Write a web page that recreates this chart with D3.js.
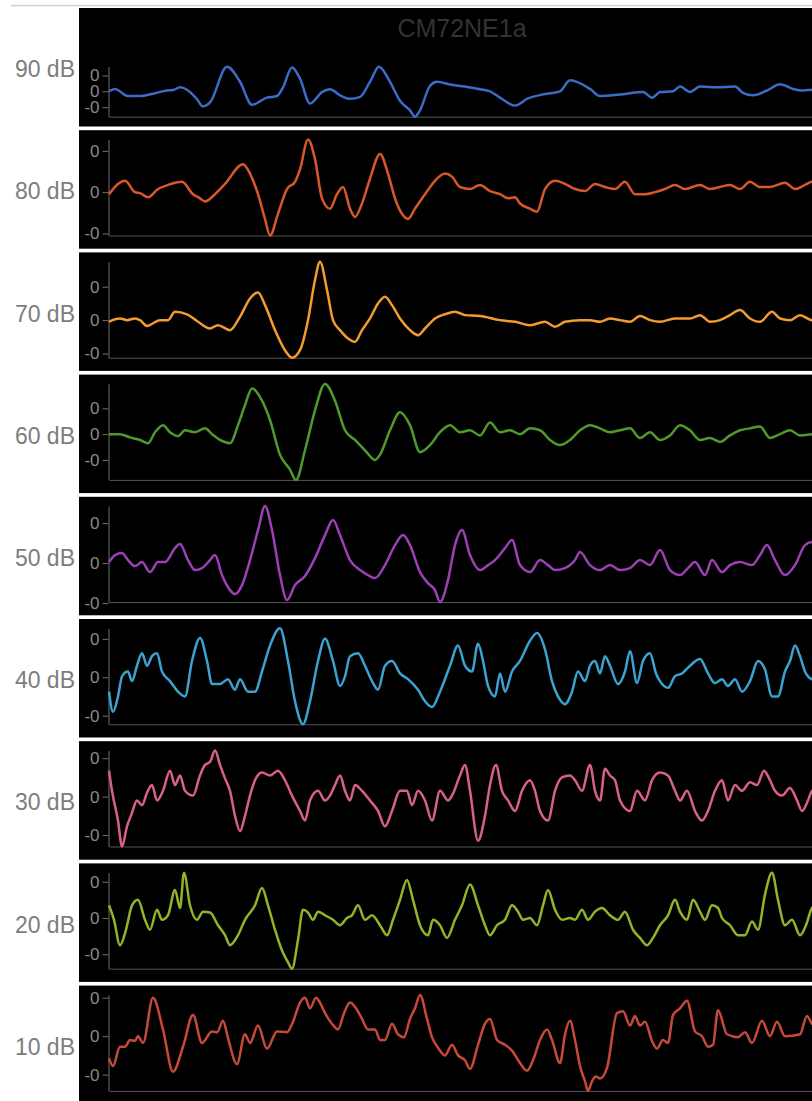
<!DOCTYPE html>
<html>
<head>
<meta charset="utf-8">
<script src="https://cdn.jsdelivr.net/npm/d3@7"></script>
<style>
  html, body { margin: 0; padding: 0; background: #fff; overflow: hidden; }
  svg { display: block; font-family: "Liberation Sans", Arial, Helvetica, sans-serif; }
</style>
</head>
<body>
<svg id="chart" width="812" height="1101"></svg>
<script>
// Averaged evoked waveforms, one trace per stimulus level (time in ms, amplitude in µV)
const chartTitle = "CM72NE1a";
const levels = ["90 dB", "80 dB", "70 dB", "60 dB", "50 dB", "40 dB", "30 dB", "20 dB", "10 dB"];
const lineColors = ["#3b6cc8", "#d9572b", "#f29b2e", "#4e9a2c", "#9d3fb5", "#3aa3d0", "#d9608a", "#90b526", "#c6493a"];
const yTickValues = [-0.4, 0, 0.4];
const yTickLabels = ["-0", "0", "0"];

const wave90 = [[0,0],[0.6,0.06],[1.9,-0.12],[3.1,-0.12],[4.4,-0.06],[5.8,0.02],[6.4,0.03],[7.1,0.10],[7.8,0.04],[8.8,-0.20],[9.4,-0.38],[10.1,-0.28],[11.8,0.62],[13.1,0.24],[14.3,-0.34],[15.8,-0.16],[16.8,-0.12],[17.4,0.10],[18.3,0.60],[19.1,0.32],[20.1,-0.31],[21.3,-0.02],[22.1,0.05],[23.1,-0.10],[24.1,-0.19],[25.1,-0.14],[26.1,0.24],[27.0,0.62],[28.1,0.24],[29.1,-0.24],[30.1,-0.48],[30.6,-0.64],[31.1,-0.48],[32.1,0.14],[32.8,0.24],[34.1,0.17],[35.6,0.12],[37.1,0.05],[38.1,0],[39.1,-0.16],[40.6,-0.36],[41.9,-0.18],[43.6,-0.07],[45.1,0],[46.1,0.28],[48.1,0.06],[49.1,-0.12],[51.1,-0.08],[53.4,-0.02],[54.3,-0.16],[55.1,-0.02],[56.4,0],[57.1,0.12],[58.1,-0.02],[59.1,0.12],[60.8,0.10],[62.6,0.12],[63.4,-0.04],[64.4,-0.10],[65.8,0.02],[67.1,0.18],[68.4,0.06],[69.4,0.02],[70.3,0.04],[71.6,0.05]];
const wave80 = [[0,-0.02],[0.9,0.08],[1.6,0.11],[2.6,0],[3.1,-0.01],[3.9,-0.05],[4.9,0.03],[5.9,0.07],[7.3,0.10],[8.4,-0.02],[9.1,-0.06],[9.6,-0.09],[10.6,-0.02],[11.6,0.08],[13.4,0.27],[14.1,0.18],[14.9,-0.02],[15.6,-0.26],[16.1,-0.42],[16.9,-0.21],[17.8,0.03],[18.6,0.10],[19.1,0.22],[19.9,0.51],[20.6,0.32],[21.3,-0.06],[22.1,-0.16],[22.8,-0.02],[23.4,0.05],[24.1,-0.16],[24.6,-0.24],[25.3,-0.11],[26.1,0.13],[27.1,0.37],[27.9,0.18],[28.6,-0.06],[29.3,-0.21],[29.9,-0.26],[30.6,-0.16],[31.6,-0.02],[32.6,0.11],[33.6,0.18],[34.3,0.15],[35.1,0.05],[36.1,0.03],[37.1,0.07],[38.1,0.01],[39.1,-0.02],[39.9,-0.06],[40.6,-0.05],[41.1,-0.11],[42.1,-0.16],[42.8,-0.19],[43.6,0.03],[44.6,0.11],[45.6,0.08],[46.6,0.03],[47.6,0.01],[48.6,0.08],[49.6,0.05],[50.6,0.03],[51.6,0.10],[52.6,-0.02],[53.6,-0.02],[54.6,0],[55.6,0.03],[56.6,0.07],[57.6,0.03],[59.1,0.07],[60.1,0.03],[61.1,0.05],[62.1,0.07],[63.1,0.03],[64.1,0.10],[65.1,0.05],[66.1,0.05],[67.6,0.09],[68.6,0.03],[69.6,0.07],[70.3,0.10],[71.6,0.07]];
const wave70 = [[0,-0.02],[0.6,0.01],[1.1,0.02],[1.8,0],[2.6,0.02],[3.1,0],[3.8,-0.07],[5.1,0],[5.9,0],[6.6,0.10],[7.8,0.07],[8.8,-0.01],[10.1,-0.10],[10.9,-0.06],[12.1,-0.12],[13.1,0.04],[14.1,0.26],[14.9,0.33],[15.6,0.18],[16.6,-0.12],[17.6,-0.36],[18.3,-0.45],[19.1,-0.36],[19.9,0],[20.6,0.48],[21.1,0.70],[21.8,0.36],[22.4,0],[23.1,-0.12],[23.9,-0.22],[24.6,-0.26],[25.3,-0.12],[26.1,0.02],[26.9,0.20],[27.6,0.28],[28.3,0.18],[29.1,0.02],[30.1,-0.12],[30.9,-0.18],[31.6,-0.10],[32.6,0.02],[33.6,0.07],[34.6,0.10],[35.6,0.06],[37.1,0.05],[39.1,0],[40.6,-0.02],[42.1,-0.06],[43.6,-0.02],[44.6,-0.08],[45.6,-0.02],[47.1,0],[48.1,0],[49.1,-0.02],[50.1,0.02],[51.1,0],[52.1,-0.02],[53.1,0.05],[54.1,0],[55.1,-0.02],[56.6,0.02],[58.1,0.02],[59.1,0.06],[60.1,-0.02],[61.1,0],[62.1,0.06],[63.1,0.12],[64.1,0.02],[65.1,-0.02],[66.3,0.10],[67.1,0.02],[68.1,0],[69.1,0.06],[70.3,0],[71.6,0.02]];
const wave60 = [[0,0],[1.1,0],[2.1,-0.05],[3.1,-0.09],[3.9,-0.14],[4.6,0.03],[5.4,0.14],[6.1,0.03],[6.9,-0.03],[7.6,0.06],[8.6,0.03],[9.6,0.09],[10.3,0],[11.1,-0.09],[12.1,-0.14],[12.9,0.14],[13.6,0.45],[14.3,0.71],[15.3,0.52],[16.1,0.22],[17.1,-0.32],[18.1,-0.55],[18.7,-0.71],[19.6,-0.25],[20.6,0.37],[21.6,0.78],[22.6,0.52],[23.6,0.06],[24.6,-0.09],[25.6,-0.25],[26.6,-0.40],[27.1,-0.32],[28.1,0.06],[29.1,0.34],[30.1,0.14],[31.1,-0.28],[32.1,-0.17],[33.1,0.03],[34.1,0.14],[35.1,0.03],[36.1,0.06],[37.1,-0.02],[38.1,0.18],[39.1,0.03],[40.1,0.06],[41.1,0],[42.1,0.09],[43.1,0.06],[44.1,-0.09],[45.1,-0.17],[46.1,-0.09],[47.1,0.06],[48.1,0.14],[49.1,0.09],[50.1,0.03],[51.1,0.06],[52.1,0.09],[53.1,-0.06],[54.1,0.03],[55.1,-0.09],[56.1,-0.02],[57.1,0.14],[58.1,0.06],[59.1,-0.09],[60.1,-0.06],[61.1,-0.12],[62.1,-0.02],[63.1,0.06],[64.1,0.09],[65.1,0.12],[66.1,-0.06],[67.1,0],[68.1,0.06],[69.1,-0.02],[70.3,0],[71.6,0.03]];
const wave50 = [[0,0.01],[0.6,0.08],[1.3,0.10],[1.9,0.03],[2.6,-0.03],[3.3,0.01],[4.1,-0.09],[4.9,0.01],[5.6,0.01],[6.6,0.15],[7.1,0.19],[7.9,0.03],[8.6,-0.07],[9.3,-0.05],[10.1,0.03],[10.6,0.08],[11.3,-0.12],[12.1,-0.27],[12.6,-0.31],[13.3,-0.22],[14.1,0.03],[14.9,0.33],[15.6,0.57],[16.3,0.33],[17.1,-0.12],[17.8,-0.37],[18.6,-0.22],[19.6,-0.13],[20.6,0.05],[21.6,0.28],[22.4,0.43],[23.1,0.28],[24.1,0.03],[25.1,-0.07],[25.9,-0.12],[26.6,-0.15],[27.6,-0.02],[28.6,0.18],[29.4,0.28],[30.1,0.18],[31.1,-0.09],[31.9,-0.20],[32.6,-0.27],[33.1,-0.39],[33.9,-0.17],[34.6,0.18],[35.3,0.33],[36.1,0.08],[37.1,-0.07],[37.9,-0.02],[38.6,0.03],[39.6,0.15],[40.3,0.23],[41.1,-0.02],[42.1,-0.09],[43.1,0.03],[43.9,-0.02],[44.6,-0.07],[45.6,-0.05],[46.6,0.03],[47.1,0.11],[48.1,-0.02],[49.1,-0.07],[50.1,-0.02],[51.1,-0.07],[52.1,-0.05],[53.1,0.03],[54.1,-0.02],[55.1,0.13],[56.1,-0.07],[57.1,-0.12],[57.9,-0.05],[58.6,0.01],[59.6,-0.12],[60.3,0.03],[61.3,-0.09],[62.1,-0.02],[63.1,0.01],[64.3,-0.02],[65.1,0.08],[65.8,0.18],[66.6,0.03],[67.6,-0.12],[68.6,-0.02],[69.6,0.18],[70.3,0.21],[71.6,0.18]];
const wave40 = [[0,-0.15],[0.4,-0.36],[0.9,-0.20],[1.3,0.01],[1.9,0.06],[2.3,-0.04],[2.8,0.12],[3.3,0.25],[3.8,0.12],[4.3,0.22],[4.8,0.25],[5.3,0.06],[6.1,-0.04],[6.9,-0.15],[7.6,-0.20],[8.3,0.17],[9.1,0.41],[9.8,0.17],[10.3,-0.07],[11.1,-0.07],[11.9,-0.02],[12.6,-0.13],[13.1,-0.02],[13.9,-0.15],[14.6,-0.15],[15.3,0.06],[16.1,0.33],[17.1,0.51],[17.9,0.17],[18.6,-0.25],[19.4,-0.49],[20.1,-0.25],[20.9,0.17],[21.6,0.40],[22.4,0.17],[23.1,-0.09],[23.6,0.01],[24.1,0.22],[24.9,0.25],[25.6,0.12],[26.3,-0.04],[26.9,-0.13],[27.6,0.12],[28.3,0.17],[29.1,0.04],[29.9,-0.02],[30.9,-0.13],[31.6,-0.25],[32.3,-0.31],[33.1,-0.15],[34.1,0.12],[34.9,0.33],[35.6,0.12],[36.3,0.06],[36.9,0.35],[37.4,0.17],[37.9,-0.09],[38.6,-0.20],[39.1,0.04],[39.6,-0.15],[40.3,0.06],[41.1,0.17],[42.1,0.38],[42.8,0.46],[43.6,0.29],[44.3,-0.04],[44.9,-0.20],[45.6,-0.28],[46.3,-0.15],[46.9,0.06],[47.6,-0.04],[48.1,0.12],[48.6,0.17],[49.1,0.04],[49.6,0.22],[50.1,0.12],[50.9,-0.07],[51.6,0.06],[52.1,0.27],[52.8,-0.06],[53.4,0.17],[54.1,0.25],[54.7,0.04],[55.1,-0.04],[55.9,-0.11],[56.6,0.01],[57.3,0.04],[58.1,0.12],[59.1,0.19],[59.9,0.04],[60.6,-0.06],[61.3,-0.02],[61.9,-0.09],[62.6,-0.02],[63.3,-0.15],[64.1,-0.04],[64.9,0.17],[65.6,0.08],[66.3,-0.20],[66.9,-0.20],[67.6,0.06],[68.1,0.17],[68.6,0.33],[69.1,0.22],[69.6,0.06],[70.3,-0.02],[71.6,-0.04]];
const wave30 = [[0,0.27],[0.3,0.06],[0.9,-0.25],[1.3,-0.52],[1.8,-0.31],[2.3,-0.17],[2.8,-0.04],[3.3,-0.09],[3.8,0.04],[4.3,0.12],[4.8,-0.04],[5.4,0.06],[6.1,0.27],[6.6,0.12],[7.1,0.22],[7.6,0.06],[8.4,0.01],[9.1,0.22],[9.6,0.33],[10.1,0.36],[10.6,0.48],[11.1,0.33],[11.6,0.19],[12.1,0.06],[12.6,-0.20],[13.1,-0.36],[13.6,-0.20],[14.1,0.01],[14.6,0.17],[15.3,0.25],[16.1,0.22],[16.9,0.27],[17.6,0.17],[18.3,0.01],[19.1,-0.15],[19.6,-0.25],[20.1,-0.04],[20.9,0.06],[21.6,-0.04],[22.1,0.01],[22.6,0.12],[23.1,0.22],[23.6,0.06],[24.1,-0.04],[24.6,0.12],[25.3,0.06],[26.1,-0.04],[26.9,-0.15],[27.6,-0.31],[28.3,-0.15],[29.1,0.06],[29.8,0.06],[30.3,-0.09],[30.9,0.06],[31.6,-0.04],[32.3,-0.25],[33.1,0.06],[33.9,-0.04],[34.3,0.01],[35.1,0.22],[35.6,0.33],[36.1,0.06],[36.9,-0.46],[37.6,-0.20],[38.1,0.12],[38.7,0.33],[39.3,0.06],[39.9,-0.04],[40.6,-0.15],[41.3,0.06],[42.1,0.17],[42.6,0.06],[43.1,-0.15],[43.9,-0.25],[44.6,0.06],[45.3,0.20],[46.1,0.22],[46.6,0.17],[47.3,0.06],[48.1,0.33],[48.6,0.06],[49.1,-0.04],[49.6,0.29],[50.1,0.22],[50.6,0.17],[51.1,-0.04],[52.1,-0.15],[52.8,0.06],[53.6,-0.04],[54.3,0.17],[55.1,0.25],[55.9,0.22],[56.6,0.06],[57.1,-0.04],[57.8,0.06],[58.6,-0.15],[59.3,-0.25],[59.9,-0.15],[60.6,0.06],[61.3,0.17],[61.9,-0.04],[62.6,0.12],[63.3,0.06],[64.1,0.15],[64.8,0.12],[65.5,0.27],[66.1,0.17],[66.6,0.06],[67.3,0.01],[68.1,0.09],[68.8,-0.04],[69.3,-0.15],[69.9,-0.04],[70.3,0.06],[71.6,0.12]];
const wave20 = [[0,0.14],[0.5,-0.02],[1.1,-0.30],[1.7,-0.13],[2.3,0.14],[2.9,0.20],[3.6,-0.02],[4.1,-0.13],[4.8,0.09],[5.3,-0.02],[5.9,0.03],[6.6,0.31],[7.1,0.11],[7.5,0.50],[8.1,0.14],[8.8,-0.02],[9.4,0.07],[10.1,0.06],[10.9,-0.08],[11.6,-0.19],[12.1,-0.30],[12.9,-0.19],[13.6,-0.02],[14.6,0.14],[15.3,0.33],[15.9,0.14],[16.6,-0.13],[17.3,-0.36],[17.9,-0.49],[18.3,-0.56],[18.9,-0.24],[19.4,0.09],[19.9,0.06],[20.4,-0.02],[20.9,0.07],[21.6,0.03],[22.4,-0.02],[23.1,-0.08],[23.8,0],[24.3,0.03],[24.9,0.14],[25.6,-0.02],[26.3,0.03],[27.1,-0.08],[27.8,-0.19],[28.4,-0.02],[29.1,0.20],[29.8,0.42],[30.4,0.20],[31.1,-0.08],[31.9,-0.19],[32.4,-0.02],[33.1,-0.08],[33.8,-0.22],[34.6,-0.02],[35.3,0.14],[36.1,0.37],[36.9,0.14],[37.6,-0.08],[38.1,-0.19],[38.8,-0.08],[39.6,-0.02],[40.3,0.14],[40.9,0.07],[41.4,-0.02],[42.1,0],[42.8,-0.08],[43.4,0.14],[43.9,0.31],[44.6,0.09],[45.3,-0.02],[46.1,0],[46.6,-0.02],[47.3,0.09],[47.9,-0.02],[48.6,0.07],[49.3,0.11],[50.1,0.03],[50.9,-0.02],[51.6,0.07],[52.4,-0.13],[53.1,-0.22],[53.8,-0.30],[54.4,-0.22],[55.1,-0.08],[55.9,0.03],[56.6,0.20],[57.1,0.07],[57.8,-0.02],[58.4,0.20],[59.1,0.07],[59.6,-0.02],[60.3,0.14],[60.9,0.11],[61.3,0],[62.1,-0.08],[62.9,-0.19],[63.6,-0.19],[64.3,-0.04],[64.9,-0.13],[65.6,0.26],[66.3,0.50],[66.9,0.20],[67.6,-0.08],[68.3,-0.02],[69.1,-0.19],[69.7,-0.08],[70.3,0.11],[71.6,0.20]];
const wave10 = [[0,-0.23],[0.4,-0.31],[1.1,-0.11],[1.6,-0.11],[2.1,-0.04],[2.6,-0.05],[2.9,0],[3.4,-0.07],[4.4,0.40],[5.4,0.07],[6.4,-0.37],[7.4,-0.11],[8.4,0.22],[9.3,-0.07],[10.3,0.05],[10.8,0.04],[11.4,0.16],[11.9,-0.02],[12.8,-0.29],[13.6,0.02],[14.1,-0.07],[14.9,0.11],[15.8,-0.13],[16.8,0.05],[17.8,0.04],[18.4,0.15],[19.1,0.35],[19.6,0.40],[20.1,0.29],[20.7,0.40],[21.1,0.35],[21.6,0.24],[22.3,0.13],[22.9,0.07],[23.5,0.24],[24.1,0.35],[24.7,0.29],[25.3,0.18],[25.9,0.07],[26.6,0.07],[27.1,-0.04],[27.6,-0.04],[28.3,0.13],[28.9,0.02],[29.5,-0.01],[30.1,0.18],[30.6,0.29],[31.1,0.43],[31.8,0.18],[32.3,-0.01],[32.9,-0.12],[33.6,-0.20],[34.3,-0.09],[34.9,-0.20],[35.6,-0.25],[36.1,-0.34],[36.9,-0.09],[37.6,0.13],[38.1,0.18],[38.8,-0.04],[39.6,-0.09],[40.3,-0.15],[41.1,-0.28],[41.8,-0.36],[42.4,-0.25],[43.1,-0.04],[43.8,0.07],[44.3,-0.04],[45.1,-0.28],[45.6,0.02],[46.1,0.16],[46.6,-0.04],[47.1,-0.31],[47.6,-0.47],[47.9,-0.57],[48.3,-0.47],[48.7,-0.42],[49.1,-0.44],[49.8,-0.33],[50.8,0.24],[51.4,0.26],[52.1,0.11],[52.6,0.21],[53.1,0.11],[53.6,0.15],[54.3,-0.05],[54.8,-0.13],[55.4,-0.04],[55.9,-0.07],[56.4,0.22],[57.1,0.29],[57.8,0.37],[58.6,0.05],[59.3,0],[59.9,-0.11],[60.4,-0.09],[60.9,0.27],[61.8,0.02],[62.9,-0.01],[63.6,0.04],[64.3,-0.07],[65.3,0.16],[66.1,0],[66.8,0.15],[67.6,0],[69.1,0.02],[69.8,0.21],[70.3,0.13],[71.6,0.07]];

const waves = [wave90, wave80, wave70, wave60, wave50, wave40, wave30, wave20, wave10];

// Layout of the stacked panels
const panelLeft = 79, panelWidth = 766, panelHeight = 118.5;
const firstPanelTop = 8, panelStep = 122.2;
const plotLeft = 109;

const svg = d3.select("#chart");

// thin rule above the stack
svg.append("line")
  .attr("x1", 11).attr("x2", 812)
  .attr("y1", 5.5).attr("y2", 5.5)
  .attr("stroke", "#cfcfcf").attr("stroke-width", 1.6);

const x = d3.scaleLinear().domain([0, 80]).range([plotLeft, plotLeft + 800]);

waves.forEach((wave, i) => {
  const top = firstPanelTop + i * panelStep;
  const g = svg.append("g").attr("transform", `translate(0,${top})`);

  g.append("rect")
    .attr("x", panelLeft).attr("y", 0)
    .attr("width", panelWidth).attr("height", panelHeight)
    .attr("fill", "#000");

  // the first panel leaves room for the title
  const plotTop = i === 0 ? 58.7 : 9.3;
  const plotBottom = i === 0 ? 108.7 : 105.3;

  const y = d3.scaleLinear()
    .domain(d3.extent(wave, d => d[1]))
    .range([plotBottom, plotTop]);

  const xAxis = g.append("g")
    .attr("transform", `translate(0,${plotBottom})`)
    .call(d3.axisBottom(x).tickValues([]).tickSizeOuter(0));
  xAxis.select(".domain").attr("stroke", "#555");

  const yAxis = g.append("g")
    .attr("transform", `translate(${plotLeft - 0.5},0)`)
    .call(d3.axisLeft(y)
      .tickValues(yTickValues)
      .tickFormat((d, j) => yTickLabels[j])
      .tickSize(6).tickPadding(3).tickSizeOuter(0));
  yAxis.select(".domain").attr("stroke", "#6e6e6e");
  yAxis.selectAll(".tick line").attr("stroke", "#6e6e6e");
  yAxis.selectAll(".tick text")
    .attr("fill", "#8a8a8a")
    .style("font-size", "17px")
    .style("font-family", "\"Liberation Sans\", Arial, sans-serif");

  const line = d3.line()
    .x(d => x(d[0]))
    .y(d => y(d[1]))
    .curve(d3.curveMonotoneX);

  g.append("path")
    .datum(wave)
    .attr("d", line)
    .attr("fill", "none")
    .attr("stroke", lineColors[i])
    .attr("stroke-width", 2.5)
    .attr("stroke-linejoin", "round");

  g.append("text")
    .attr("x", 75)
    .attr("y", panelHeight / 2 + 2)
    .attr("text-anchor", "end")
    .attr("dominant-baseline", "central")
    .attr("fill", "#7d7d7d")
    .style("font-size", "23px")
    .text(levels[i]);

  if (i === 0) {
    g.append("text")
      .attr("x", panelLeft + panelWidth / 2)
      .attr("y", 28.7)
      .attr("text-anchor", "middle")
      .attr("fill", "#333")
      .style("font-size", "25px")
      .text(chartTitle);
  }
});
</script>
</body>
</html>
